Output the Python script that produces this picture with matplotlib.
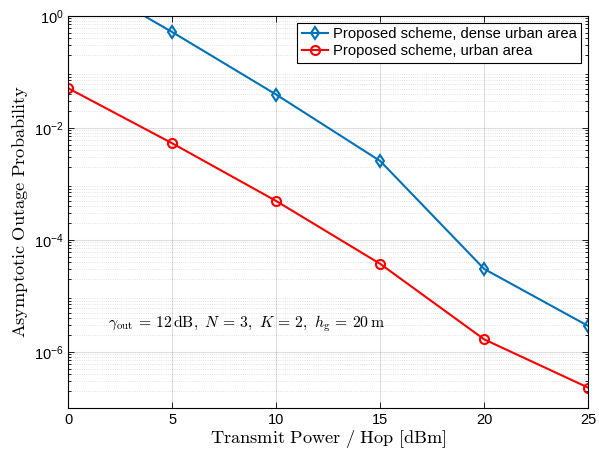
import matplotlib
matplotlib.use('Agg')
import matplotlib.pyplot as plt
from matplotlib.ticker import LogLocator, FixedLocator, FuncFormatter
import numpy as np

power_dbm = [0, 5, 10, 15, 20, 25]
dense_urban = [6.0, 0.51, 0.039, 0.00254, 3.0e-5, 2.88e-6]
urban = [0.0506, 0.00526, 4.9e-4, 3.7e-5, 1.66e-6, 2.28e-7]
x_ticks = [0, 5, 10, 15, 20, 25]
y_ticks = [1e-6, 1e-4, 1e-2, 1e0]

plt.rcParams['font.family'] = ['Liberation Sans', 'DejaVu Sans']
plt.rcParams['mathtext.fontset'] = 'custom'
plt.rcParams['mathtext.rm'] = 'Liberation Sans'
plt.rcParams['mathtext.it'] = 'Liberation Sans:italic'
plt.rcParams['mathtext.bf'] = 'Liberation Sans:bold'

blue = '#0072BD'
red = '#FF0000'

fig = plt.figure(figsize=(5.99, 4.58), dpi=100)
ax = fig.add_axes([0.114, 0.1098, 0.868, 0.8559])

ax.semilogy(power_dbm, dense_urban, '-d', color=blue, lw=1.5, ms=6.5,
            mfc='none', mew=1.5, label='Proposed scheme, dense urban area')
ax.semilogy(power_dbm, urban, '-o', color=red, lw=1.5, ms=6.5,
            mfc='none', mew=1.5, label='Proposed scheme, urban area')

ax.set_xlim(0, 25)
ax.set_ylim(1e-7, 1)
ax.xaxis.set_major_locator(FixedLocator(x_ticks))
ax.yaxis.set_major_locator(FixedLocator(y_ticks))
ax.yaxis.set_minor_locator(LogLocator(base=10, subs=np.arange(2, 10), numticks=20))
ax.yaxis.set_major_formatter(FuncFormatter(
    lambda v, p: r'$\mathregular{10^{%d}}$' % int(round(np.log10(v)))))

ax.tick_params(which='both', direction='in', top=True, right=True,
               labelsize=10.5, width=0.6)
ax.tick_params(which='major', length=4)
ax.tick_params(which='minor', length=2)
for s in ax.spines.values():
    s.set_linewidth(0.8)

ax.grid(which='major', color='#000000', alpha=0.13, lw=0.8, ls='-')
ax.grid(which='minor', axis='y', color='#000000', alpha=0.15, lw=0.6, ls=':')
ax.set_axisbelow(True)

ax.set_xlabel(r'$\mathrm{Transmit\ Power\ /\ Hop\ [dBm]}$', fontsize=13.2,
              math_fontfamily='cm', labelpad=1)
ax.set_ylabel(r'$\mathrm{Asymptotic\ Outage\ Probability}$', fontsize=13.2,
              math_fontfamily='cm', labelpad=3)

ax.text(1.9, 3.2e-6,
        r'$\gamma_{\rm out} \,=\, 12\,{\rm dB},\ N \,=\, 3,\ K \,=\, 2,\ h_{\rm g} \,=\, 20\,{\rm m}$',
        fontsize=11.3, math_fontfamily='cm', ha='left', va='center')

leg = ax.legend(loc='upper right', fontsize=10.6, fancybox=False,
                edgecolor='black', framealpha=1, handlelength=1.8,
                handletextpad=0.3, borderpad=0.3, labelspacing=0.2,
                borderaxespad=0.5)
leg.get_frame().set_linewidth(0.8)

fig.savefig('out.png', dpi=100)
